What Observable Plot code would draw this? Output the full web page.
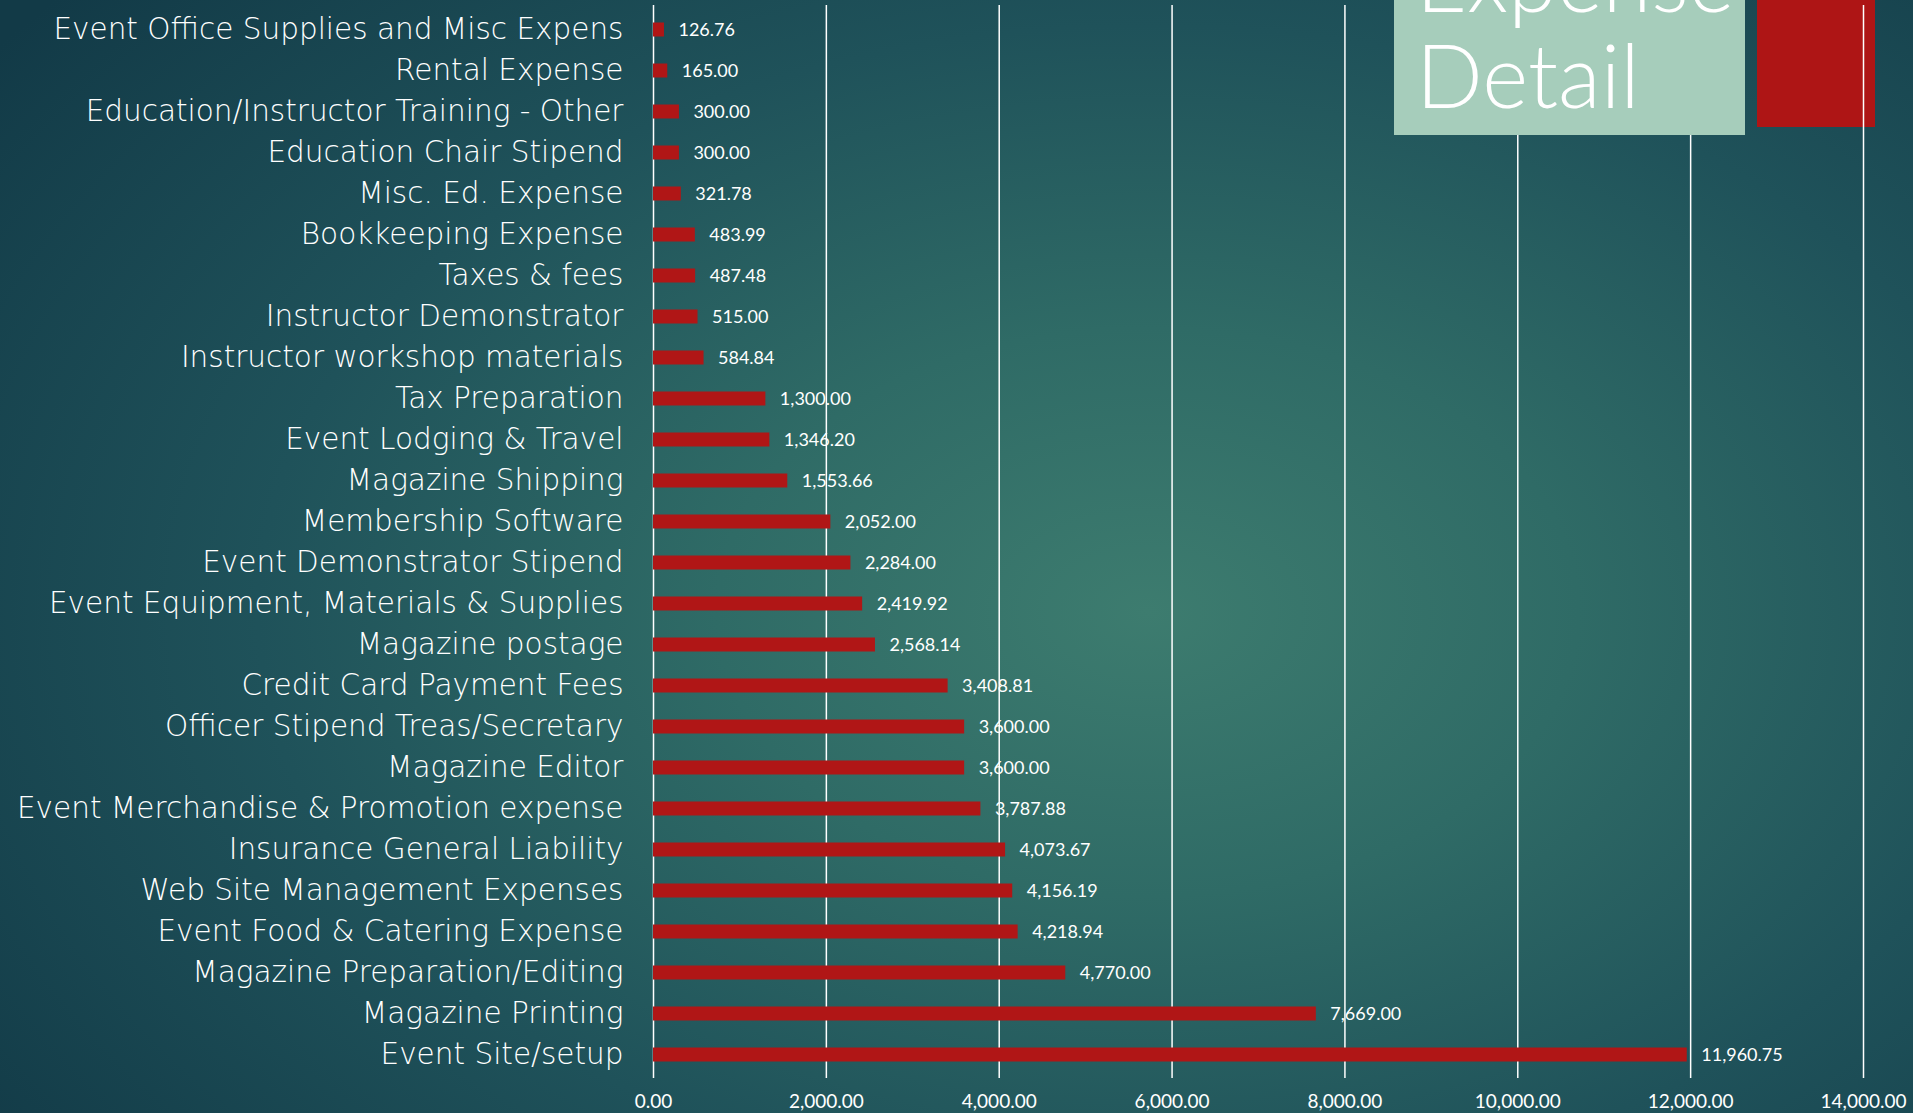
<!DOCTYPE html>
<html>
<head>
<meta charset="utf-8">
<script src="https://cdn.jsdelivr.net/npm/d3@7"></script>
<script src="https://cdn.jsdelivr.net/npm/@observablehq/plot@0.6"></script>
<style>
  html, body { margin: 0; padding: 0; width: 1913px; height: 1113px; overflow: hidden; }
  body {
    position: relative;
    background: radial-gradient(ellipse 75% 85% at 60% 55%, #3d7c6f 0%, #2f6b66 30%, #1f525a 62%, #123a47 100%);
    font-family: Lato, "Open Sans", sans-serif;
  }
  #redbox { position: absolute; left: 1757px; top: 0; width: 118px; height: 127px; background: #ae1515; }
  #chart { position: absolute; left: 0; top: 0; }
  #titlebox {
    position: absolute; left: 1394px; top: 0; width: 351px; height: 135px; background: #a6cdbb;
    overflow: hidden;
  }
  #titlebox div { position: absolute; left: 22px; color: #fff; font-family: Lato, sans-serif; font-weight: 300; font-size: 88px; line-height: 1; white-space: nowrap; }
  #chart svg g[aria-label="y-axis tick label"] text { font-family: "DejaVu Sans ExtraLight", "DejaVu Sans", sans-serif; font-weight: 200; }
</style>
</head>
<body>
<div id="redbox"></div>
<div id="chart"></div>
<div id="titlebox"><div style="top:-66px">Expense</div><div style="top:30px">Detail</div></div>
<script>
const categories = [
  "Event Office Supplies and Misc Expens",
  "Rental Expense",
  "Education/Instructor Training - Other",
  "Education Chair Stipend",
  "Misc. Ed. Expense",
  "Bookkeeping Expense",
  "Taxes & fees",
  "Instructor Demonstrator",
  "Instructor workshop materials",
  "Tax Preparation",
  "Event Lodging & Travel",
  "Magazine Shipping",
  "Membership Software",
  "Event Demonstrator Stipend",
  "Event Equipment, Materials & Supplies",
  "Magazine postage",
  "Credit Card Payment Fees",
  "Officer Stipend Treas/Secretary",
  "Magazine Editor",
  "Event Merchandise & Promotion expense",
  "Insurance General Liability",
  "Web Site Management Expenses",
  "Event Food & Catering Expense",
  "Magazine Preparation/Editing",
  "Magazine Printing",
  "Event Site/setup"
];
const amounts = [
  126.76, 165.00, 300.00, 300.00, 321.78, 483.99, 487.48, 515.00, 584.84,
  1300.00, 1346.20, 1553.66, 2052.00, 2284.00, 2419.92, 2568.14, 3408.81,
  3600.00, 3600.00, 3787.88, 4073.67, 4156.19, 4218.94, 4770.00, 7669.00, 11960.75
];
const xTicks = [0, 2000, 4000, 6000, 8000, 10000, 12000, 14000];

const data = categories.map((c, i) => ({category: c, amount: amounts[i]}));
const fmt = d3.format(",.2f");

const chart = Plot.plot({
  width: 1913,
  height: 1113,
  marginLeft: 653,
  marginRight: 50,
  marginTop: 5,
  marginBottom: 35,
  style: {background: "transparent", color: "#fff", fontFamily: "Lato, 'Open Sans', sans-serif"},
  x: {domain: [0, 14000], label: null},
  y: {domain: categories, padding: 0, label: null},
  marks: [
    Plot.ruleX(xTicks, {stroke: "#fff", strokeWidth: 1.5, strokeOpacity: 1}),
    Plot.barX(data, {x: "amount", y: "category", fill: "#b01616", insetTop: 13.5, insetBottom: 13.5}),
    Plot.text(data, {x: "amount", y: "category", text: d => fmt(d.amount), dx: 14, textAnchor: "start", fill: "#fff", fontSize: 18}),
    Plot.axisX({ticks: xTicks, tickFormat: d => fmt(d), tickSize: 0, tickPadding: 16, fontSize: 19, anchor: "bottom", label: null}),
    Plot.axisY({tickSize: 0, tickPadding: 30, fontSize: 29.5, label: null})
  ]
});
document.getElementById("chart").appendChild(chart);
</script>
</body>
</html>
